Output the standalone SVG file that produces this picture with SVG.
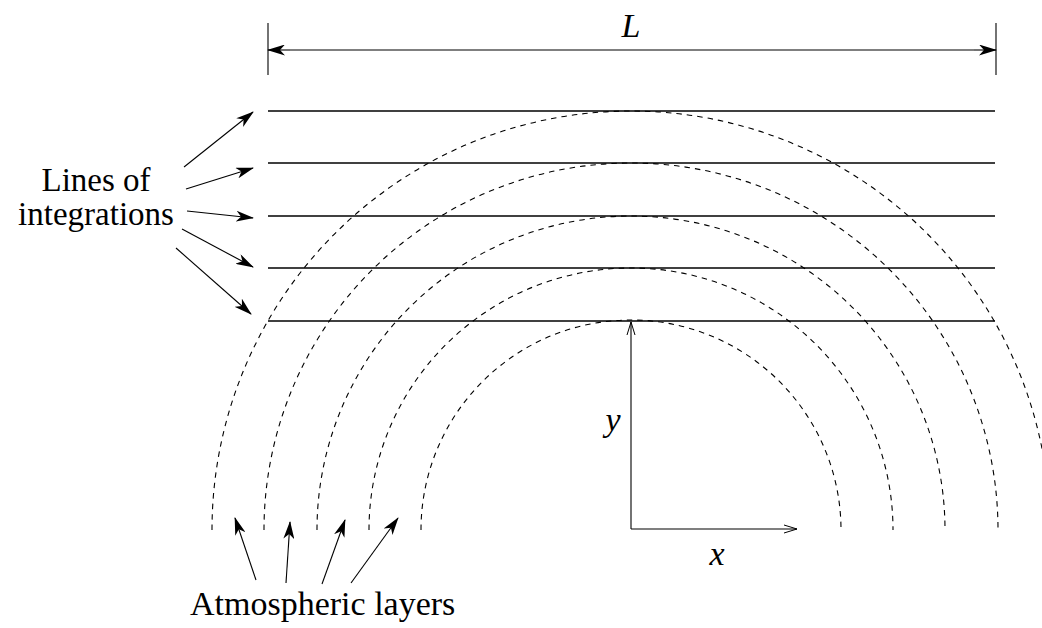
<svg xmlns="http://www.w3.org/2000/svg" width="1042" height="628" viewBox="0 0 1042 628">
<style>
.arc{fill:none;stroke:#000;stroke-width:1.1;stroke-dasharray:5.5,5}
.int{stroke:#000;stroke-width:1.6}
.ptr{stroke:#000;stroke-width:1.1;fill:none;marker-end:url(#fa)}
.txt{font-family:"Liberation Serif","Times New Roman",serif;font-size:34px;fill:#000}
.it{font-style:italic}
.lbl{font-size:33px}
</style>
<defs>
<marker id="fa" viewBox="0 0 18 11" refX="17" refY="5.5" markerWidth="18" markerHeight="11" markerUnits="userSpaceOnUse" orient="auto">
<path d="M0,0 L18,5.5 L0,11 L5,5.5 Z" fill="#000"/>
</marker>
<marker id="oa" viewBox="0 0 14 10" refX="13" refY="5" markerWidth="14" markerHeight="10" markerUnits="userSpaceOnUse" orient="auto">
<path d="M0,1 L13,5 L0,9" fill="none" stroke="#000" stroke-width="1"/>
</marker>
</defs>
<rect width="1042" height="628" fill="#fff"/>
<g id="layers">
<path class="arc" d="M421,530 A210,210 0 0 1 841,530"/>
<path class="arc" d="M369,530 A262,262 0 0 1 893,530"/>
<path class="arc" d="M317,530 A314,314 0 0 1 945,530"/>
<path class="arc" d="M264,530 A367,367 0 0 1 998,530"/>
<path class="arc" d="M212,530 A419,419 0 0 1 1050,530"/>
</g>
<g id="integration-lines">
<line class="int" x1="268" y1="111" x2="995" y2="111"/>
<line class="int" x1="268" y1="163" x2="995" y2="163"/>
<line class="int" x1="268" y1="216" x2="995" y2="216"/>
<line class="int" x1="268" y1="268" x2="995" y2="268"/>
<line class="int" x1="268" y1="321" x2="995" y2="321"/>
</g>
<g id="dimension">
<line x1="268" y1="23" x2="268" y2="75" stroke="#000" stroke-width="1.1"/>
<line x1="996" y1="23" x2="996" y2="75" stroke="#000" stroke-width="1.1"/>
<line x1="290" y1="50" x2="268" y2="50" class="ptr"/>
<line x1="290" y1="50" x2="974" y2="50" stroke="#000" stroke-width="1.1"/>
<line x1="974" y1="50" x2="996" y2="50" class="ptr"/>
<text class="txt it" x="631" y="37" text-anchor="middle">L</text>
</g>
<g id="axes">
<line x1="631" y1="529" x2="631" y2="322" stroke="#000" stroke-width="1.1" marker-end="url(#oa)"/>
<line x1="631" y1="529" x2="797" y2="529" stroke="#000" stroke-width="1.1" marker-end="url(#oa)"/>
<text class="txt it" x="613" y="431" text-anchor="middle">y</text>
<text class="txt it" x="717" y="565" text-anchor="middle">x</text>
</g>
<g id="connectors">
<line class="ptr" x1="184" y1="167" x2="253" y2="112"/>
<line class="ptr" x1="186" y1="189" x2="253" y2="168"/>
<line class="ptr" x1="187" y1="211" x2="253" y2="218"/>
<line class="ptr" x1="182" y1="229" x2="253" y2="267"/>
<line class="ptr" x1="176" y1="248" x2="251" y2="314"/>
<line class="ptr" x1="256" y1="580" x2="235" y2="518"/>
<line class="ptr" x1="286" y1="583" x2="290" y2="522"/>
<line class="ptr" x1="322" y1="584" x2="345" y2="520"/>
<line class="ptr" x1="351" y1="583" x2="398" y2="518"/>
</g>
<g id="label-lines">
<text class="txt lbl" x="96" y="191" text-anchor="middle">Lines of</text>
<text class="txt lbl" x="96" y="225" text-anchor="middle">integrations</text>
</g>
<g id="label-layers">
<text class="txt" x="190" y="615">Atmospheric layers</text>
</g>
</svg>
